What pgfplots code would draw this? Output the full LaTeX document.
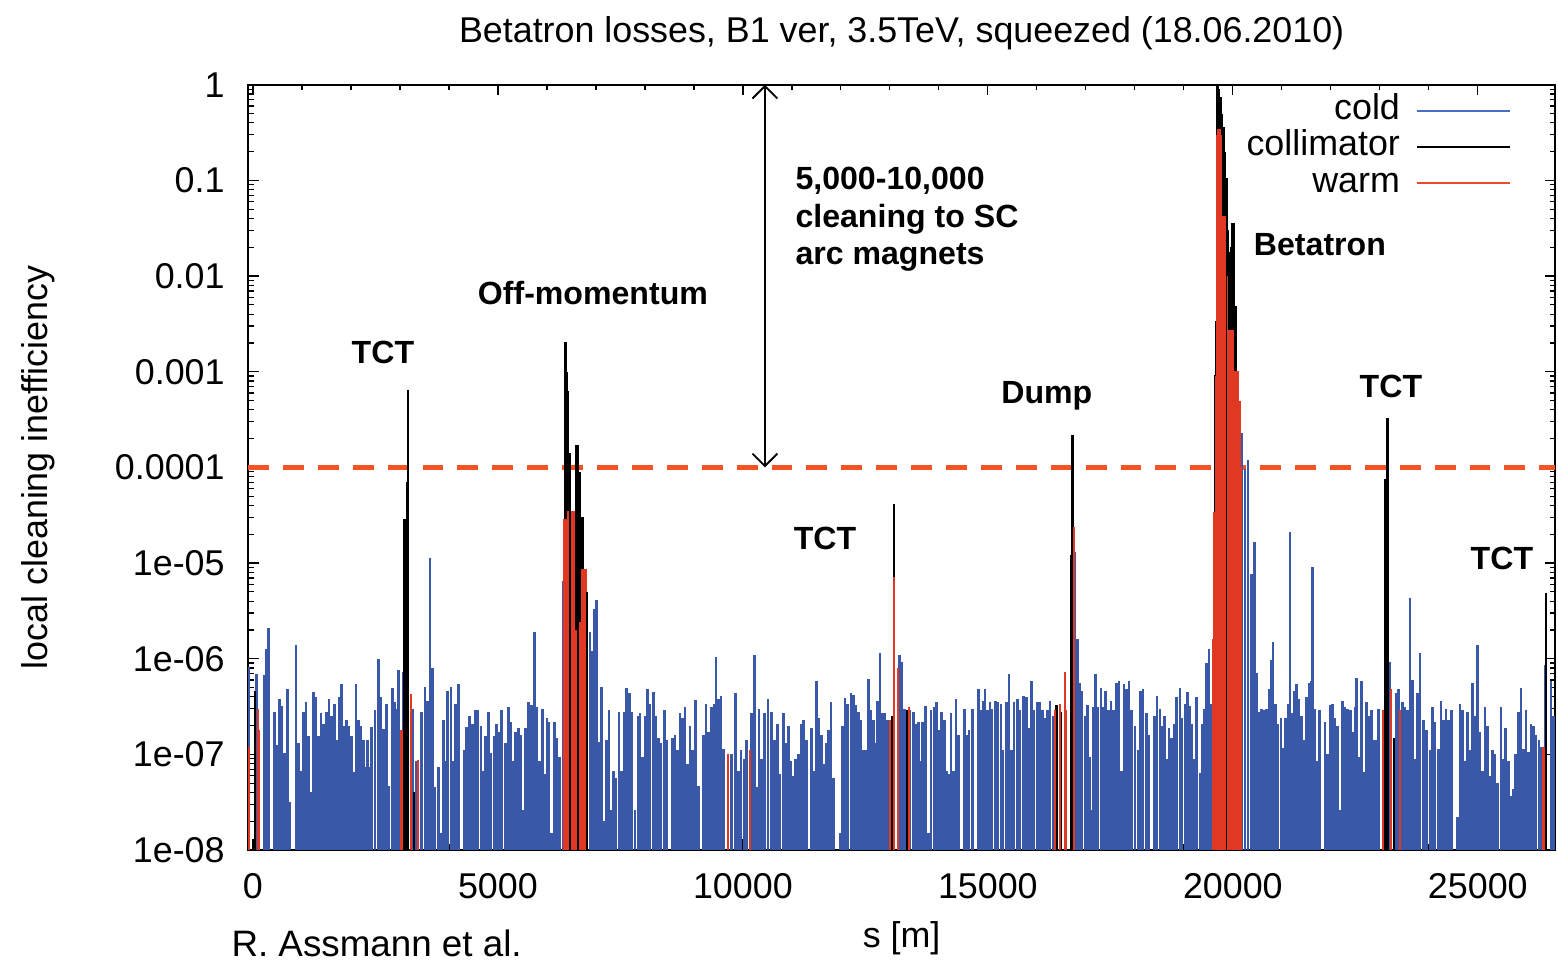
\documentclass[border=0pt]{standalone}
\usepackage{fontspec}
\setmainfont{Liberation Sans}
\usepackage{pgfplots}
\usepackage{pgfplotstable}
\pgfplotsset{compat=1.18}
\usetikzlibrary{arrows.meta}
\definecolor{coldblue}{RGB}{58,88,168}
\definecolor{legblue}{RGB}{72,110,200}
\definecolor{warmred}{RGB}{224,56,34}
\definecolor{legred}{RGB}{236,72,45}
\definecolor{dashred}{RGB}{244,84,36}

\pgfplotstableread{
s v
-82 8.2e-7
76 7e-7
231 6.8e-7
280 1.25e-6
312 2.1e-6
435 2.8e-7
484 1.26e-7
537 3.8e-7
586 3.2e-7
639 1.03e-7
708 4.8e-7
755 3.2e-8
878 1.4e-6
925 1.3e-7
980 6.7e-8
1027 2.8e-7
1082 3.5e-7
1129 1.57e-7
1184 4e-8
1231 4.5e-7
1280 4e-7
1333 1.57e-7
1388 2.7e-7
1435 2.1e-7
1504 2.8e-7
1551 3.8e-7
1606 2.5e-7
1659 3.4e-7
1708 1.4e-7
1761 4e-7
1810 5.5e-7
1863 2e-7
1912 2.3e-7
1959 2e-7
2014 1.57e-7
2047 6.5e-8
2102 5.5e-7
2149 2.3e-7
2204 2e-7
2251 1.4e-7
2300 7.3e-8
2341 1.4e-7
2388 7.3e-8
2423 1.95e-7
2490 2.9e-7
2557 1e-6
2612 4e-7
2659 1.85e-7
2729 3.4e-7
2776 4.7e-8
2843 4.9e-7
2884 3.5e-7
2933 3e-7
2966 7.7e-7
3068 7.3e-7
3251 3e-7
3341 8.6e-8
3443 2.8e-7
3510 5.1e-7
3557 3.6e-7
3612 1.14e-5
3659 8e-7
3714 4.6e-8
3782 7.3e-8
3831 1.5e-8
3884 2.3e-7
3933 8.6e-8
3974 4.6e-7
4041 5.1e-7
4088 8.6e-8
4137 3.4e-7
4190 5.4e-7
4312 1.1e-7
4361 1.95e-7
4415 2.5e-7
4476 2.1e-7
4531 2.9e-7
4586 2.9e-7
4653 2e-7
4700 6.7e-8
4749 1.57e-7
4802 2.8e-7
4857 1.03e-7
4925 1.57e-7
4974 2.1e-7
5021 1.7e-7
5076 2.9e-7
5157 1.3e-7
5210 3.1e-7
5262 2.2e-7
5313 8.6e-8
5362 1.7e-7
5415 1.9e-7
5470 1.6e-7
5517 2.6e-8
5566 1.9e-7
5619 3.5e-7
5688 3.3e-7
5741 1.9e-6
5790 3.1e-7
5843 8.6e-8
5904 3e-7
5960 6.3e-8
6000 2.4e-7
6041 2.2e-7
6096 1.5e-8
6149 2.2e-7
6198 1.5e-7
6251 9.5e-8
6340 6.5e-6
6878 1.9e-6
6920 1.2e-6
6966 3.3e-6
7015 4.1e-6
7068 1.35e-7
7117 5.1e-7
7164 2e-8
7219 1.4e-7
7266 2.9e-7
7307 2.6e-8
7354 6.7e-8
7403 5.6e-8
7470 2.8e-7
7525 6.7e-8
7572 2.8e-7
7627 4.9e-7
7680 4.4e-7
7729 2.8e-7
7797 2.6e-8
7864 2.5e-7
7898 2.7e-7
7946 9.5e-8
8001 2.5e-7
8056 4.8e-7
8103 3.4e-7
8170 4.5e-7
8219 2.5e-7
8272 1.5e-7
8327 1.3e-7
8395 2.9e-7
8443 1.4e-7
8558 1.5e-7
8613 1.6e-7
8668 1.1e-7
8715 2.7e-7
8762 2.4e-7
8817 3.1e-7
8872 8e-8
8919 2e-7
8974 1.1e-7
9035 3.7e-7
9088 4.7e-8
9190 1.6e-7
9245 3.4e-7
9292 1.7e-7
9361 3.1e-7
9415 3.4e-7
9450 1.05e-6
9497 3.8e-7
9551 4.1e-7
9599 1.15e-7
9770 1e-7
9852 4.4e-7
9905 6.7e-8
9960 1.1e-7
10027 9e-8
10076 1.4e-7
10178 2.7e-7
10231 1.1e-6
10280 4.6e-8
10327 3e-7
10382 9e-8
10435 2.7e-7
10515 3.8e-7
10586 2.8e-7
10639 1.4e-7
10708 2.1e-7
10755 6.3e-8
10823 2.7e-7
10872 1.3e-7
10925 2e-7
10980 8.6e-8
11027 6e-8
11076 9e-8
11129 1e-7
11184 2.1e-7
11231 2.3e-7
11300 1.4e-7
11403 1.9e-7
11456 6.7e-8
11505 5.8e-7
11552 2.4e-7
11607 1.6e-7
11660 8e-8
11709 1.3e-7
11742 1.8e-7
11797 3.5e-7
11843 5.6e-8
11987 1.5e-8
12027 2e-7
12082 3.9e-7
12137 3.4e-7
12205 4.4e-7
12252 4.2e-7
12300 3.3e-7
12354 2.8e-7
12409 2.3e-7
12456 1.1e-7
12510 1.1e-7
12558 6.2e-7
12613 2.9e-7
12660 2.3e-7
12709 1.3e-7
12750 3.6e-7
12797 1.15e-6
12844 2.7e-7
12899 2.7e-7
12950 2.3e-7
13190 1.1e-6
13251 9.3e-7
13300 3e-7
13410 2.9e-7
13476 2.8e-7
13525 2.1e-7
13578 2.2e-7
13613 8.6e-8
13660 2.2e-7
13729 3.2e-7
13782 1.5e-8
13837 2.9e-7
13905 3.1e-7
13954 3.5e-7
14001 1.8e-7
14056 2.8e-7
14109 2.3e-7
14158 6.7e-8
14205 6.3e-8
14246 2.7e-7
14293 6.7e-8
14348 3.8e-7
14395 1.6e-7
14517 3e-7
14566 1.6e-7
14613 1.8e-7
14680 3e-7
14803 4.8e-7
14851 2.9e-7
14904 3.6e-7
14939 4.8e-7
14994 2.9e-7
15041 3.5e-7
15088 3e-7
15157 3.6e-7
15210 3.5e-7
15265 3.4e-7
15312 1.1e-7
15382 3.5e-7
15429 7e-7
15484 1.1e-7
15537 3.5e-7
15606 3.8e-7
15653 2.9e-7
15721 4.1e-7
15790 4e-7
15837 1.9e-7
15892 5.8e-7
15945 2.9e-7
16015 3.5e-7
16062 3.5e-7
16109 2.9e-7
16164 2.4e-7
16219 2.9e-7
16266 3.6e-7
16333 2.5e-7
16776 1.3e-5
16831 1.6e-6
16878 5.6e-7
16925 4.6e-7
16980 2.5e-7
17035 3.3e-7
17082 9.5e-8
17117 2.6e-8
17149 3.1e-7
17198 7e-7
17251 3.1e-7
17307 4.9e-7
17354 3.1e-7
17403 4.6e-7
17456 2.9e-7
17511 3.6e-7
17558 2.9e-7
17627 5.6e-7
17674 5.8e-7
17729 6.7e-8
17782 5.4e-7
17831 4.8e-7
17878 5.8e-7
17933 2.9e-7
18001 2e-7
18068 1.1e-7
18117 4.6e-7
18170 4.8e-7
18239 2.7e-7
18287 1.6e-7
18395 2.5e-7
18450 4.1e-7
18512 3e-7
18560 2e-7
18600 2.5e-7
18649 9e-8
18695 1.9e-7
18750 1.5e-7
18803 2.1e-7
18852 4e-7
18919 5e-7
18966 2.4e-7
19021 3.4e-7
19076 4.5e-7
19123 3.2e-7
19170 2.1e-7
19211 9e-8
19260 4e-7
19327 6.4e-8
19374 2.1e-7
19415 3e-7
19464 9e-7
19511 1.27e-6
19566 3.4e-7
20185 2.3e-4
20246 9.6e-5
20307 1.2e-4
20383 7.7e-6
20436 1.66e-5
20485 7.1e-7
20532 2.8e-7
20587 3e-7
20640 2.9e-7
20688 3e-7
20735 4.8e-7
20790 9.7e-7
20823 1.5e-6
20872 3.4e-7
20925 2.1e-7
20980 2.4e-7
21027 1.16e-7
21076 2.4e-7
21129 3.4e-7
21164 2.1e-5
21211 2.7e-7
21252 4.6e-7
21301 5.4e-7
21349 3.8e-7
21404 2.5e-7
21450 1.4e-7
21505 4e-7
21552 5.6e-7
21593 5.8e-7
21620 9e-6
21675 3e-7
21722 8.6e-8
21771 2.9e-7
21879 2.2e-7
21926 1e-7
21981 3.3e-7
22036 3.4e-7
22083 2.4e-7
22138 2e-7
22185 2.6e-8
22232 3.6e-7
22287 3.1e-7
22342 3e-7
22396 2.9e-7
22445 1.7e-7
22491 3.1e-7
22525 6.3e-7
22573 9.5e-8
22628 5.8e-7
22675 6.6e-8
22730 3.5e-7
22777 2.5e-7
22832 2.9e-7
22885 1.4e-7
22934 1.4e-7
22967 3e-7
23205 9.3e-7
23327 4.4e-7
23375 4.8e-7
23466 3.5e-7
23512 3.1e-7
23567 2.9e-7
23614 4.3e-6
23661 6e-7
23716 9e-8
23771 4.4e-7
23818 1.15e-6
23886 2.3e-7
23955 1.8e-7
24022 1.1e-7
24070 3.1e-7
24125 2.2e-7
24192 1.15e-7
24247 3.6e-7
24294 2.3e-7
24349 3e-7
24396 2.3e-7
24465 2.9e-7
24580 2.2e-8
24635 3.4e-7
24690 2.9e-7
24737 8.6e-8
24792 2.8e-7
24839 1.1e-7
24886 5.6e-7
24941 2.5e-7
24996 1.4e-6
25043 1.7e-7
25098 6.7e-8
25145 3.1e-7
25200 2e-7
25247 6e-8
25294 1.1e-7
25349 1e-7
25404 5e-8
25471 3.1e-7
25519 9e-8
25568 1.9e-7
25621 8.6e-8
25670 3.7e-8
25723 4.3e-8
25772 1e-7
25825 2.8e-7
25880 4.9e-7
25927 1.15e-7
25982 2.9e-7
26029 1.05e-7
26084 2.1e-7
26131 2e-7
26186 1.6e-7
26247 1.4e-7
26288 1.2e-7
26370 8.5e-7
26492 5.8e-7
26539 2.5e-7
}\colddata

\pgfplotstableread{
s v
40 4.6e-7
3090 2.9e-5
3110 2.9e-5
3130 2.9e-5
3150 7e-5
3160 6.5e-4
3292 4e-8
6370 2.05e-3
6385 2.05e-3
6405 1e-3
6422 6.3e-4
6445 1.4e-4
6470 1.4e-4
6586 1.7e-4
6610 1.7e-4
6640 1.7e-4
6660 9e-5
6680 9e-5
6725 3e-5
6745 3e-5
6790 5e-6
6810 5e-6
13050 2.5e-7
13088 4.1e-5
13361 2.9e-7
16402 3.3e-7
16490 2.8e-7
16700 1.2e-5
16729 2.2e-4
19640 9.3e-4
19660 3.4e-3
19680 1.0
19700 1.0
19720 0.9
19740 0.75
19760 0.75
19780 0.5
19800 0.36
19820 0.36
19840 0.2
19860 0.106
19880 0.106
19900 0.03
19920 0.018
19940 0.018
19960 0.02
19980 0.036
20000 0.036
20020 0.036
20040 4.9e-3
20060 4.9e-3
20080 1e-3
20100 1e-3
20120 3.5e-4
20140 3.5e-4
20160 5e-5
20175 5e-5
23100 7.5e-5
23120 7.5e-5
23140 7.5e-5
23157 3.3e-4
23290 1.5e-7
26390 4.9e-6
}\colldata

\pgfplotstableread{
s v
-82 1.2e-7
100 3e-7
125 1.8e-7
3034 1.8e-7
3225 4.3e-7
3374 8.8e-8
6360 2.9e-5
6380 2.9e-5
6400 2.9e-5
6420 2.9e-5
6440 3.5e-5
6460 3.5e-5
6480 3.5e-5
6500 3.5e-5
6520 3.5e-5
6540 3.5e-5
6560 3.5e-5
6580 2e-6
6600 2e-6
6620 2e-6
6640 2e-6
6660 2.4e-6
6680 2.4e-6
6700 2.4e-6
6720 8.6e-6
6740 8.6e-6
6760 8.6e-6
6780 8.6e-6
6800 8.6e-6
9700 1e-7
10143 1.1e-7
13001 2.3e-7
13088 7.2e-6
13170 8e-7
13388 3.1e-7
16368 2.9e-7
16470 3.4e-7
16572 7.3e-7
16600 2.9e-7
16750 2.4e-5
16765 2.4e-5
19600 1.6e-6
19620 3.4e-5
19640 3.4e-5
19660 9e-4
19680 0.3
19700 0.345
19720 0.345
19740 0.345
19760 0.3
19780 0.042
19800 0.042
19820 0.042
19840 0.042
19860 0.042
19880 0.01
19900 2.7e-3
19920 2.7e-3
19940 2.7e-3
19960 2.7e-3
19980 2.7e-3
20000 2.7e-3
20020 1.03e-3
20040 1.03e-3
20060 1.03e-3
20080 1.03e-3
20100 1.03e-3
20120 5e-4
20140 5e-4
20160 1e-4
23060 2.9e-7
23230 4.8e-7
23410 2.9e-7
26340 1.2e-7
}\warmdata

\pgfplotstableread{
s v
6470 1.4e-4
6640 1.7e-4
6810 5e-6
19870 0.106
}\collover

\begin{document}
\begin{tikzpicture}[font=\fontsize{11.5}{13.8}\selectfont]
\begin{axis}[
  scale only axis,
  width=419.5pt, height=245.6pt,
  xmin=-100, xmax=26580,
  ymode=log, ymin=1e-8, ymax=1,
  log origin y=infty,
  clip=false,
  xtick={0,5000,10000,15000,20000,25000},
  xticklabels={0,5000,10000,15000,20000,25000},
  scaled x ticks=false,
  minor x tick num=4,
  ytick={1e-8,1e-7,1e-6,1e-5,1e-4,1e-3,1e-2,1e-1,1},
  yticklabels={1e-08,1e-07,1e-06,1e-05,0.0001,0.001,0.01,0.1,1},
  tick align=inside,
  major tick length=3.4pt,
  minor tick length=1.8pt,
  axis line style={line width=0.5pt},
  every tick/.style={black, line width=0.4pt},
  yticklabel style={xshift=-4pt},
  xticklabel style={yshift=-4pt},
  legend cell align=right,
  legend plot pos=right,
  legend image code/.code={\draw[#1] (0pt,0pt) -- (30pt,0pt);},
  legend style={draw=none, fill=none, at={(rel axis cs:0.967,0.99)}, anchor=north east,
    row sep=0pt, column sep=5pt, inner sep=0pt,
    nodes={inner sep=0pt, text height=8.6pt, text depth=3pt}},
]
\addplot[dashred, line width=1.8pt, dash pattern=on 6.7pt off 4.5pt, forget plot] coordinates {(-100,1e-4) (26580,1e-4)};
\addplot[ycomb, coldblue, line width=0.85pt, forget plot, mark=none] table[x=s,y=v] {\colddata};
\addplot[ycomb, black, line width=0.7pt, forget plot, mark=none] table[x=s,y=v] {\colldata};
\addplot[ycomb, warmred, line width=0.7pt, forget plot, mark=none] table[x=s,y=v] {\warmdata};
\addplot[ycomb, black, line width=0.6pt, forget plot, mark=none] table[x=s,y=v] {\collover};

\addlegendimage{legblue, line width=0.6pt}
\addlegendentry{cold}
\addlegendimage{black, line width=0.8pt}
\addlegendentry{collimator}
\addlegendimage{legred, line width=0.6pt}
\addlegendentry{warm}

\draw[line width=0.6pt, {Straight Barb[length=4pt,width=8pt]}-{Straight Barb[length=4pt,width=8pt]}] (axis cs:10450,1) -- (axis cs:10450,1e-4);

\begin{scope}[every node/.style={font=\fontsize{10.3}{11.9}\selectfont\bfseries}]
\node at (axis cs:2653,1.61e-3) {TCT};
\node at (axis cs:6939,6.7e-3) {Off-momentum};
\node[anchor=west, align=left, inner sep=0pt, yshift=-1.9pt] at (axis cs:11062,0.0453) {5,000-10,000\\cleaning to SC\\arc magnets};
\node at (axis cs:11675,1.8e-5) {TCT};
\node at (axis cs:16205,5.56e-4) {Dump};
\node at (axis cs:21778,0.0214) {Betatron};
\node at (axis cs:23227,7.1e-4) {TCT};
\node at (axis cs:25492,1.11e-5) {TCT};
\end{scope}
\end{axis}
\node at ([yshift=16.5pt]current axis.north) {Betatron losses, B1 ver, 3.5TeV, squeezed (18.06.2010)};
\node[rotate=90] at ([xshift=-67.4pt]current axis.west) {local cleaning inefficiency};
\node at ([yshift=-28.3pt]current axis.south) {s [m]};
\node[anchor=west, inner sep=0pt, font=\fontsize{11.8}{14}\selectfont] at ([xshift=-5.5pt,yshift=-30pt]current axis.south west) {R. Assmann et al.};
\pgfresetboundingbox
\path[use as bounding box] ([xshift=-79.6pt,yshift=-36.6pt]current axis.south west) rectangle ++(500pt,309.4pt);
\end{tikzpicture}
\end{document}
